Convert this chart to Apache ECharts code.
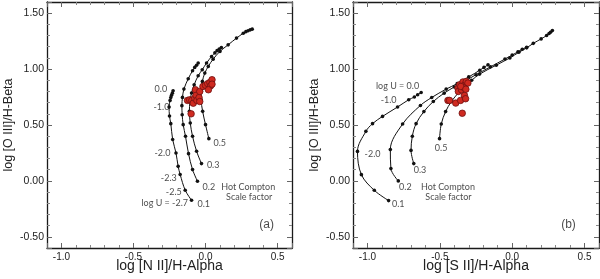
<!DOCTYPE html>
<html><head><meta charset="utf-8">
<script src="https://cdn.jsdelivr.net/npm/echarts@6/dist/echarts.min.js"></script>
<style>html,body{margin:0;padding:0;background:#fff}#c{width:600px;height:279px}</style>
</head><body><div id="c"></div>
<script>
// ---- Panel (a): log [N II]/H-Alpha vs log [O III]/H-Beta ----
const a_sf01 = [[-0.097,-0.173],[-0.141,-0.083],[-0.176,0.057],[-0.19,0.13],[-0.205,0.25],[-0.228,0.37],[-0.241,0.512],[-0.25,0.58],[-0.253,0.66],[-0.246,0.72],[-0.241,0.745],[-0.236,0.765],[-0.23,0.785],[-0.225,0.806]];
const a_sf02 = [[-0.056,-0.003],[-0.09,0.101],[-0.118,0.244],[-0.139,0.399],[-0.155,0.503],[-0.162,0.592],[-0.164,0.673],[-0.16,0.747],[-0.15,0.821],[-0.12,0.914],[-0.09,0.985],[-0.075,1.015],[-0.062,1.035],[-0.051,1.054]];
const a_sf03 = [[-0.028,0.155],[-0.062,0.265],[-0.09,0.399],[-0.106,0.518],[-0.112,0.622],[-0.108,0.711],[-0.097,0.786],[-0.079,0.86],[-0.051,0.94],[-0.023,0.994],[0.007,1.054],[0.042,1.113],[0.065,1.145],[0.08,1.165],[0.095,1.18],[0.11,1.193]];
const a_sf05 = [[0.023,0.378],[0.0,0.503],[-0.02,0.622],[-0.03,0.726],[-0.03,0.801],[-0.022,0.89],[-0.005,0.964],[0.019,1.024],[0.053,1.089],[0.1,1.158],[0.157,1.217],[0.215,1.277],[0.262,1.321],[0.28,1.335],[0.295,1.343],[0.31,1.351],[0.324,1.357]];
const a_obs = [[-0.125,0.72],[-0.11,0.725],[-0.1,0.60],[-0.095,0.72],[-0.085,0.695],[-0.075,0.74],[-0.07,0.815],[-0.066,0.765],[-0.06,0.72],[-0.045,0.745],[-0.04,0.71],[-0.04,0.80],[-0.018,0.845],[0.0,0.855],[0.015,0.87],[0.03,0.88],[0.045,0.905],[0.035,0.85],[0.02,0.815],[0.045,0.865]];
const a_labels = ['0.0','-1.0','-2.0','-2.3','-2.5','log U = -2.7','0.1','0.2','0.3','0.5','Hot Compton','Scale factor'];
const a_labelAt = [[-0.31,0.82],[-0.306,0.657],[-0.299,0.25],[-0.255,0.027],[-0.22,-0.098],[-0.283,-0.196],[-0.012,-0.209],[0.023,-0.054],[0.053,0.14],[0.099,0.339],[0.296,-0.054],[0.303,-0.146]];

// ---- Panel (b): log [S II]/H-Alpha vs log [O III]/H-Beta ----
const b_sf01 = [[-0.854,-0.176],[-0.953,-0.084],[-1.042,0.056],[-1.069,0.264],[-1.011,0.443],[-0.965,0.512],[-0.896,0.577],[-0.792,0.661],[-0.715,0.726],[-0.676,0.75],[-0.653,0.771],[-0.629,0.791]];
const b_sf02 = [[-0.787,0.0],[-0.838,0.11],[-0.842,0.28],[-0.757,0.509],[-0.634,0.675],[-0.556,0.746],[-0.456,0.821],[-0.38,0.87],[-0.3,0.93],[-0.224,0.99],[-0.195,1.015],[-0.167,1.038]];
const b_sf03 = [[-0.68,0.155],[-0.699,0.273],[-0.69,0.4],[-0.664,0.512],[-0.61,0.62],[-0.545,0.71],[-0.47,0.785],[-0.4,0.84],[-0.33,0.89],[-0.25,0.95],[-0.15,1.02],[-0.05,1.09],[0.0,1.125],[0.04,1.155],[0.07,1.178],[0.1,1.195]];
const b_sf05 = [[-0.502,0.378],[-0.49,0.509],[-0.46,0.62],[-0.42,0.71],[-0.37,0.79],[-0.32,0.86],[-0.28,0.9],[-0.225,0.955],[-0.11,1.035],[-0.016,1.1],[0.046,1.15],[0.1,1.19],[0.146,1.23],[0.2,1.27],[0.238,1.3],[0.255,1.318],[0.265,1.33],[0.278,1.345]];
const b_obs = [[-0.444,0.72],[-0.433,0.72],[-0.39,0.696],[-0.357,0.72],[-0.33,0.765],[-0.322,0.735],[-0.345,0.605],[-0.375,0.83],[-0.372,0.80],[-0.363,0.86],[-0.35,0.815],[-0.34,0.885],[-0.328,0.86],[-0.317,0.89],[-0.306,0.875],[-0.33,0.83],[-0.355,0.845],[-0.32,0.82]];
const b_labels = ['log U = 0.0','-1.0','-2.0','0.1','0.2','0.3','0.5','Hot Compton','Scale factor'];
const b_labelAt = [[-0.792,0.851],[-0.854,0.72],[-0.965,0.244],[-0.787,-0.211],[-0.738,-0.054],[-0.637,0.101],[-0.491,0.295],[-0.444,-0.054],[-0.44,-0.146]];

const panelTags = ['(a)','(b)'];
const panelTagAt = [[0.424,-0.39],[0.389,-0.39]];
const xTitles = ['log [N II]/H-Alpha','log [S II]/H-Alpha'];
const yTitle = 'log [O III]/H-Beta';
const X_RANGE = [-1.1, 0.6];
const Y_RANGE = [-0.6, 1.6];

const FONT = 'Liberation Sans';
function xAx(g, pos, title){
  return {type:'value', gridIndex:g, position:pos, min:X_RANGE[0], max:X_RANGE[1], splitNumber:4,
    axisLine:{show:true,onZero:false,lineStyle:{color:'#1a1a1a',width:1.3}},
    axisTick:{show:true,inside:true,length:5,lineStyle:{color:'#666',width:1}},
    minorTick:{show:true,splitNumber:5,length:3,lineStyle:{color:'#888',width:1}},
    splitLine:{show:false},
    axisLabel:{show:pos==='bottom',margin:4,fontSize:10,color:'#222',fontFamily:FONT,showMinLabel:false,showMaxLabel:false,formatter:v=>v.toFixed(1)},
    name:title||'',nameLocation:'middle',nameGap:11,nameMoveOverlap:false,nameTextStyle:{fontSize:14,color:'#222',fontFamily:FONT}};
}
function yAx(g, pos, title){
  return {type:'value', gridIndex:g, position:pos, min:Y_RANGE[0], max:Y_RANGE[1], splitNumber:4,
    axisLine:{show:true,onZero:false,lineStyle:{color:'#1a1a1a',width:1.3}},
    axisTick:{show:true,inside:true,length:5,lineStyle:{color:'#666',width:1}},
    minorTick:{show:true,splitNumber:5,length:3,lineStyle:{color:'#888',width:1}},
    splitLine:{show:false},
    axisLabel:{show:pos==='left',margin:3,fontSize:10.5,color:'#222',fontFamily:FONT,showMinLabel:false,showMaxLabel:false,formatter:v=>v.toFixed(2)},
    name:title||'',nameLocation:'middle',nameGap:32,nameMoveOverlap:false,nameTextStyle:{fontSize:12.5,color:'#222',fontFamily:FONT}};
}
function curve(data, ax){
  return {type:'line', xAxisIndex:ax, yAxisIndex:ax, data:data, smooth:0.35, symbol:'circle', symbolSize:3.6,
    showSymbol:true, lineStyle:{color:'#111',width:1}, itemStyle:{color:'#111'}, silent:true, z:3};
}
function obs(data, ax){
  return {type:'scatter', xAxisIndex:ax, yAxisIndex:ax, data:data, symbol:'circle', symbolSize:6.5,
    itemStyle:{color:'#cf2a20',borderColor:'#6e1010',borderWidth:0.8,opacity:1}, silent:true, z:5};
}
function texts(names, pos, ax, style){
  return {type:'scatter', xAxisIndex:ax, yAxisIndex:ax, symbolSize:0, silent:true, z:6,
    data:names.map((n,i)=>({name:n, value:pos[i]})),
    label:Object.assign({show:true, position:'inside', formatter:p=>p.name, color:'#1a1a1a'}, style)};
}
const numStyle = {fontSize:9, fontFamily:'Lato'};
const tagStyle = {fontSize:12, fontFamily:FONT};

const chart = echarts.init(document.getElementById('c'));
chart.setOption({
  animation:false,
  backgroundColor:'#fff',
  grid:[
    {left:47, top:2, width:245, height:246, outerBoundsMode:'none', containLabel:false},
    {left:353, top:2, width:246, height:246, outerBoundsMode:'none', containLabel:false}
  ],
  xAxis:[xAx(0,'bottom',xTitles[0]), xAx(1,'bottom',xTitles[1]), xAx(0,'top'), xAx(1,'top')],
  yAxis:[yAx(0,'left',yTitle), yAx(1,'left',yTitle), yAx(0,'right'), yAx(1,'right')],
  series:[
    curve(a_sf01,0), curve(a_sf02,0), curve(a_sf03,0), curve(a_sf05,0), obs(a_obs,0),
    curve(b_sf01,1), curve(b_sf02,1), curve(b_sf03,1), curve(b_sf05,1), obs(b_obs,1),
    texts(a_labels, a_labelAt, 0, numStyle),
    texts(b_labels, b_labelAt, 1, numStyle),
    texts([panelTags[0]], [panelTagAt[0]], 0, tagStyle),
    texts([panelTags[1]], [panelTagAt[1]], 1, tagStyle)
  ]
});
</script></body></html>
